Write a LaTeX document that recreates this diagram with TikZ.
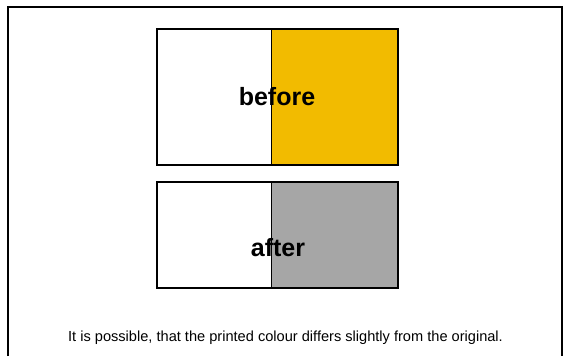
\documentclass[tikz,border=0pt]{standalone}
\usepackage{fontspec}
\setmainfont{Liberation Sans}
\usepackage{tikz}
\usetikzlibrary{positioning,calc}
\definecolor{oldyellow}{HTML}{F2BB00}
\definecolor{newgrey}{HTML}{A6A6A6}
\tikzset{
  swatchframe/.style={draw=black, line width=2pt},
  swatchdiv/.style={draw=black, line width=0.8pt},
  swatchlabel/.style={font=\fontsize{25}{25}\selectfont\bfseries, inner sep=0pt},
  notelabel/.style={font=\fontsize{14.6}{16}\selectfont, inner sep=0pt},
}
\begin{document}
\begin{tikzpicture}[x=1pt, y=-1pt]
  \useasboundingbox (0,0) rectangle (564,356);
  % outer frame, open at the bottom
  \draw[line width=2pt] (8,356) -- (8,7) -- (562,7) -- (562,356);
  % upper swatch
  \fill[oldyellow] (271,29) rectangle (398,165);
  \draw[swatchdiv] (271,29) -- (271,165);
  \draw[swatchframe] (157,29) rectangle (398,165);
  \node (before) [swatchlabel] at (277,97) {before};
  % lower swatch
  \fill[newgrey] (271,182) rectangle (398,288);
  \draw[swatchdiv] (271,182) -- (271,288);
  \draw[swatchframe] (157,182) rectangle (398,288);
  \node (after) [swatchlabel] at (278,248) {after};
  % remark
  \node (note) [notelabel] at (285.5,338) {It is possible, that the printed colour differs slightly from the original.};
\end{tikzpicture}
\end{document}
